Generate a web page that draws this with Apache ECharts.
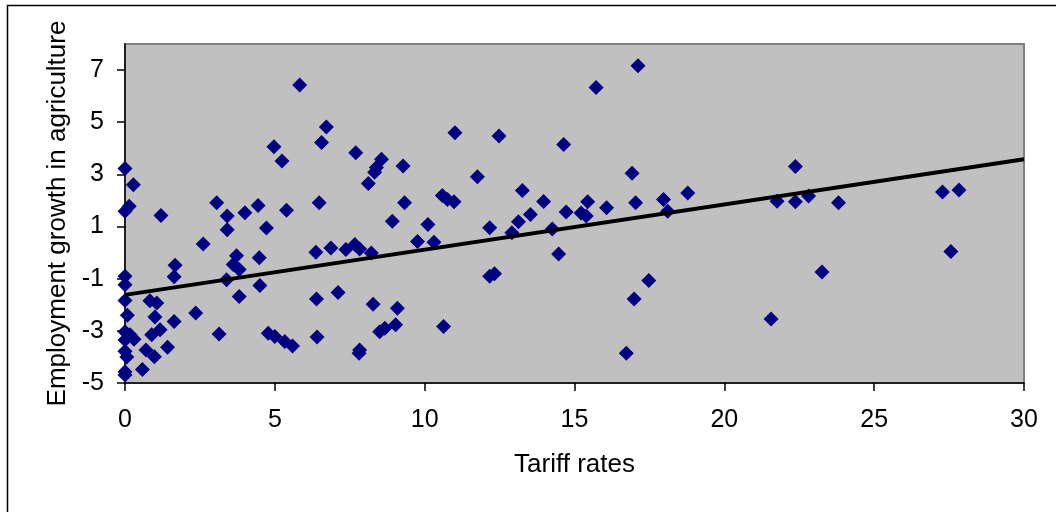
<!DOCTYPE html>
<html><head><meta charset="utf-8">
<script src="https://cdn.jsdelivr.net/npm/echarts@6/dist/echarts.min.js"></script>
<style>html,body{margin:0;padding:0;background:#fff}#c{width:1056px;height:512px}</style>
</head><body><div id="c"></div>
<script>
// Scatter data
const tariffRates = [
  0,0.28,0.14,0,0,0,0,0.08,0,0.17,0.3,0,0,0.06,0,0,
  0.83,1.06,1.0,1.64,2.36,1.17,0.89,0.7,0.98,1.42,0.58,1.2,1.67,1.64,
  2.61,3.06,3.14,3.41,3.41,3.39,3.61,3.72,3.81,3.81,4.0,4.44,4.48,4.5,4.72,4.78,4.97,5.0,5.24,5.33,5.39,5.59,5.83,
  6.37,6.39,6.41,6.48,6.56,6.72,6.87,7.11,7.37,7.67,7.7,7.83,7.83,7.81,8.12,8.22,8.28,8.33,8.39,8.5,8.56,8.67,8.92,9.03,9.09,9.28,9.33,9.76,
  10.11,10.31,10.59,10.63,10.76,10.98,11.01,11.76,12.17,12.17,12.33,12.48,12.91,13.13,13.26,13.53,13.97,14.26,14.47,14.64,14.72,
  15.22,15.39,15.44,15.72,16.07,16.73,16.92,16.99,17.04,17.12,17.48,17.97,18.11,18.78,
  21.56,21.76,22.37,22.37,22.81,23.26,23.81,27.28,27.56,27.83
];
const employmentGrowth = [
  3.23,2.6,1.78,1.59,-0.91,-1.23,-1.84,-2.4,-3.03,-3.15,-3.32,-3.35,-3.78,-4.0,-4.57,-4.69,
  -1.85,-1.93,-2.47,-2.64,-2.32,-2.96,-3.15,-3.73,-3.99,-3.63,-4.48,1.42,-0.48,-0.93,
  0.33,1.91,-3.12,1.40,0.88,-1.04,-0.46,-0.12,-0.65,-1.68,1.53,1.81,-0.2,-1.26,0.94,-3.09,4.06,-3.22,3.51,-3.41,1.62,-3.58,6.43,
  0.01,-1.78,-3.24,1.91,4.22,4.82,0.18,-1.53,0.12,0.31,3.83,0.14,-3.73,-3.86,2.65,-0.01,-1.98,3.08,3.26,-3.03,3.58,-2.9,1.2,-2.77,-2.13,3.32,1.91,0.43,
  1.08,0.4,2.19,-2.83,2.04,1.95,4.6,2.91,0.95,-0.91,-0.81,4.47,0.76,1.18,2.38,1.46,1.96,0.91,-0.05,4.15,1.56,
  1.52,1.4,1.95,6.33,1.72,-3.86,3.04,-1.78,1.91,7.17,-1.07,2.04,1.59,2.29,
  -2.55,1.97,1.95,3.3,2.17,-0.74,1.91,2.32,0.04,2.4
];
// Linear trend line end points
const trendX = [0, 30];
const trendY = [-1.62, 3.58];
const yTickValues = [-5, -3, -1, 1, 3, 5, 7];
const xTitle = 'Tariff rates';
const yTitle = 'Employment growth in agriculture';

const points = tariffRates.map((x, i) => [x, employmentGrowth[i]]);
const trend = trendX.map((x, i) => [x, trendY[i]]);
const font = "'Liberation Sans', Arial, sans-serif";

const chart = echarts.init(document.getElementById('c'), null, {renderer: 'canvas'});
chart.setOption({
  animation: false,
  backgroundColor: '#ffffff',
  graphic: [{
    type: 'rect', left: 5, top: 3, z: 100, silent: true,
    shape: {x: 0, y: 0, width: 1200, height: 700},
    style: {fill: 'none', stroke: '#000', lineWidth: 1.5}
  }],
  grid: {
    left: 125, right: 32, top: 44, bottom: 129,
    show: true, backgroundColor: '#c0c0c0', borderColor: '#808080', borderWidth: 2
  },
  xAxis: {
    type: 'value', min: 0, max: 30, interval: 5,
    name: xTitle, nameLocation: 'middle', nameGap: 69,
    nameTextStyle: {fontFamily: font, fontSize: 26, color: '#000'},
    axisLine: {show: true, onZero: false, lineStyle: {color: '#000', width: 1.5}},
    axisTick: {show: true, length: 8, lineStyle: {color: '#000', width: 1.5}},
    axisLabel: {fontFamily: font, fontSize: 25, color: '#000', margin: 25},
    splitLine: {show: false}
  },
  yAxis: {
    type: 'value', min: -5, max: 8,
    name: yTitle, nameLocation: 'middle', nameGap: 50, nameRotate: 90,
    nameTextStyle: {fontFamily: font, fontSize: 26, color: '#000'},
    axisLine: {show: true, onZero: false, lineStyle: {color: '#000', width: 1.5}},
    axisTick: {show: true, length: 8, customValues: yTickValues, lineStyle: {color: '#000', width: 1.5}},
    axisLabel: {fontFamily: font, fontSize: 25, color: '#000', margin: 21, customValues: yTickValues},
    splitLine: {show: false}
  },
  series: [{
    type: 'scatter', data: points, symbol: 'diamond', symbolSize: 15,
    itemStyle: {color: '#000080', opacity: 1}, z: 2
  }, {
    type: 'line', data: trend, showSymbol: false, symbol: 'none',
    lineStyle: {color: '#000', width: 4}, z: 3
  }]
});
</script>
</body></html>
